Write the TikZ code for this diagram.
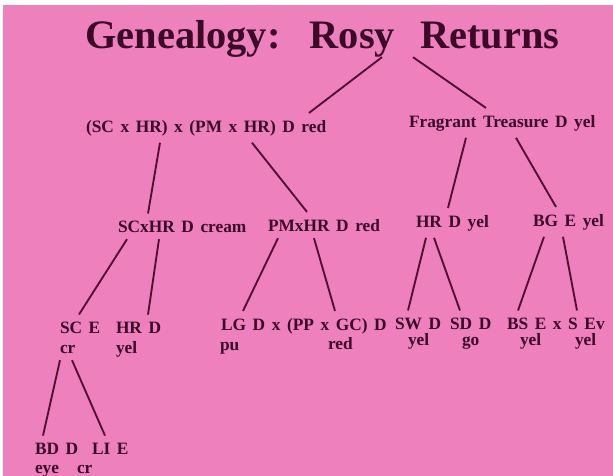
\documentclass[tikz,border=0pt]{standalone}
\usepackage{fontspec}
\setmainfont{Liberation Serif}
\definecolor{paper}{RGB}{238,128,190}
\definecolor{ink}{RGB}{58,10,38}
\definecolor{pen}{RGB}{80,16,52}
\newcommand\lblfont{\bfseries\fontsize{14.8}{17}\selectfont\spaceskip=0.38em\relax}

\begin{document}
\begin{tikzpicture}[x=0.03cm,y=-0.03cm,
    lbl/.style={anchor=base west,inner sep=0pt,outer xsep=0pt,outer ysep=6pt,text=ink,font=\lblfont},
    link/.style={draw=pen,line width=1.6pt}]
    \fill[white] (0,0) rectangle (613,476);
    \fill[paper] (3,5) rectangle (613,476);
    \useasboundingbox (0,0) rectangle (613,476);
    \node[anchor=base west,inner sep=0pt,text=ink,font=\bfseries\fontsize{34.5}{38}\selectfont]
        (title) at (85,48) {Genealogy:\hspace{0.72em}Rosy\hspace{0.62em}Returns};
    % first generation
    \node[lbl] (cross) at (86,132) {(SC x HR) x (PM x HR) D red};
    \node[lbl] (ft) at (409,127) {Fragrant Treasure D yel};
    % second generation
    \node[lbl] (scxhr) at (118,232) {SCxHR D cream};
    \node[lbl] (pmxhr) at (268,231) {PMxHR D red};
    \node[lbl] (hr) at (416,227) {HR D yel};
    \node[lbl] (bg) at (533,226) {BG E yel};
    % third generation, colours on the line below
    \node[lbl] (sc) at (60,333) {SC E};
    \node[lbl] (sccol) at (60,353) {cr};
    \node[lbl] (hrd) at (116,333) {HR D};
    \node[lbl] (hrdcol) at (116,353) {yel};
    \node[lbl] (lg) at (221,330) {LG D x (PP x GC) D};
    \node[lbl] (lgcol) at (220,350) {pu};
    \node[lbl] (gccol) at (328,349) {red};
    \node[lbl] (sw) at (395,329) {SW D};
    \node[lbl] (swcol) at (408,345) {yel};
    \node[lbl] (sd) at (450,329) {SD D};
    \node[lbl] (sdcol) at (462,345) {go};
    \node[lbl] (bs) at (507,329) {BS E x S Ev};
    \node[lbl] (bscol) at (520,345) {yel};
    \node[lbl] (sevcol) at (575,345) {yel};
    % fourth generation
    \node[lbl] (bd) at (35,454) {BD D};
    \node[lbl] (li) at (92,454) {LI E};
    \node[lbl] (bdcol) at (35,473) {eye};
    \node[lbl] (licol) at (77,473) {cr};
    % links
    \draw[link] (382,0 |- title.south) -- (309,0 |- cross.north);
    \draw[link] (413,0 |- title.south) -- (486,0 |- ft.north);
    \foreach \xa/\pnode/\xb/\cnode in {160/cross/148/scxhr, 252/cross/307/pmxhr,
        466/ft/448/hr, 516/ft/556/bg, 127/scxhr/79/sc, 159/scxhr/148/hrd,
        278/pmxhr/243/lg, 314/pmxhr/335/lg, 426/hr/408/sw, 434/hr/460/sd,
        544/bg/518/bs, 563/bg/577/bs, 60/sccol/43/bd, 72/sccol/105/li}{
        \draw[link] (\xa,0 |- \pnode.south) -- (\xb,0 |- \cnode.north);
    }
\end{tikzpicture}
\end{document}
